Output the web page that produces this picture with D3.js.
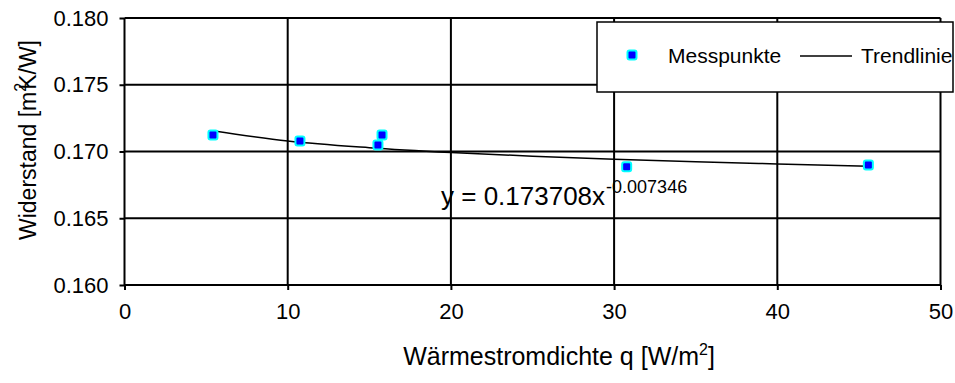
<!DOCTYPE html>
<html>
<head>
<meta charset="utf-8">
<script src="https://cdn.jsdelivr.net/npm/d3@7"></script>
<style>
  body { margin: 0; background: #fff; }
  svg { font-family: "Liberation Sans", Arial, sans-serif; }
</style>
</head>
<body>
<svg id="chart" width="955" height="383"></svg>
<script>
// measured points (Messpunkte)
const pointX = [5.42, 10.75, 15.53, 15.78, 30.77, 45.58];
const pointY = [0.17124, 0.17079, 0.17049, 0.17124, 0.16886, 0.16899];
// trend line
const trendX = [5.4, 10, 15, 20, 25, 30, 35, 40, 45.6];
const trendY = [0.17156, 0.17079, 0.17029, 0.16993, 0.16965, 0.16942, 0.16923, 0.16907, 0.16890];
const xTicks = [0, 10, 20, 30, 40, 50];
const yTicks = [0.160, 0.165, 0.170, 0.175, 0.180];
const legendLabels = ["Messpunkte", "Trendlinie"];

const svg = d3.select('#chart');
const plotLeft = 124.5, plotRight = 940.5, plotTop = 18, plotBottom = 285;

const x = d3.scaleLinear().domain([0, 50]).range([plotLeft, plotRight]);
const y = d3.scaleLinear().domain([0.160, 0.180]).range([plotBottom, plotTop]);

// grid
const grid = svg.append('g').attr('stroke', '#000').attr('stroke-width', 2);
grid.selectAll('line.v').data(xTicks).enter().append('line')
  .attr('x1', d => x(d)).attr('x2', d => x(d))
  .attr('y1', plotTop).attr('y2', plotBottom);
grid.selectAll('line.h').data(yTicks).enter().append('line')
  .attr('x1', plotLeft).attr('x2', plotRight)
  .attr('y1', d => y(d)).attr('y2', d => y(d));

// axes
const xAxis = svg.append('g')
  .attr('transform', `translate(0,${plotBottom})`)
  .call(d3.axisBottom(x).tickValues(xTicks).tickSize(5).tickPadding(13).tickFormat(d3.format('d')));
const yAxis = svg.append('g')
  .attr('transform', `translate(${plotLeft},0)`)
  .call(d3.axisLeft(y).tickValues(yTicks).tickSize(5).tickPadding(11).tickFormat(d3.format('.3f')));
[xAxis, yAxis].forEach(a => {
  a.select('.domain').remove();
  a.selectAll('line').attr('stroke', '#000').attr('stroke-width', 2);
  a.selectAll('text').attr('font-size', 22).attr('fill', '#000')
    .attr('font-family', '"Liberation Sans", Arial, sans-serif');
});

// trend line
const line = d3.line().x((d, i) => x(trendX[i])).y(d => y(d)).curve(d3.curveMonotoneX);
svg.append('path').datum(trendY)
  .attr('d', line).attr('fill', 'none').attr('stroke', '#000').attr('stroke-width', 1.5);

// points
svg.selectAll('rect.pt').data(pointY).enter().append('rect')
  .attr('x', (d, i) => x(pointX[i]) - 4.5).attr('y', d => y(d) - 4.5)
  .attr('width', 9).attr('height', 9).attr('rx', 2)
  .attr('fill', '#0000ff').attr('stroke', '#00ffff').attr('stroke-width', 2);

// equation
const eq = svg.append('text').attr('x', 441).attr('y', 205).attr('font-size', 26).attr('fill', '#000');
eq.append('tspan').text('y = 0.173708x');
eq.append('tspan').attr('dx', 1).attr('dy', -12).attr('font-size', 18).text('-0.007346');

// legend
const lg = svg.append('g');
lg.append('rect').attr('x', 597).attr('y', 22).attr('width', 356).attr('height', 70)
  .attr('fill', '#fff').attr('stroke', '#000').attr('stroke-width', 1.5);
lg.append('rect').attr('x', 627.5).attr('y', 50.5).attr('width', 9).attr('height', 9).attr('rx', 2)
  .attr('fill', '#0000ff').attr('stroke', '#00ffff').attr('stroke-width', 2);
lg.append('text').attr('x', 668).attr('y', 63).attr('font-size', 21).text(legendLabels[0]);
lg.append('line').attr('x1', 800).attr('x2', 852).attr('y1', 56).attr('y2', 56)
  .attr('stroke', '#000').attr('stroke-width', 1.5);
lg.append('text').attr('x', 861).attr('y', 63).attr('font-size', 21).text(legendLabels[1]);

// axis titles
const xt = svg.append('text').attr('x', 559).attr('y', 365).attr('text-anchor', 'middle').attr('font-size', 25);
xt.append('tspan').text('Wärmestromdichte q [W/m');
xt.append('tspan').attr('dy', -10).attr('font-size', 16).text('2');
xt.append('tspan').attr('dy', 10).text(']');

const yt = svg.append('text').attr('transform', 'translate(36,140) rotate(-90)')
  .attr('text-anchor', 'middle').attr('font-size', 23);
yt.append('tspan').text('Widerstand [m');
yt.append('tspan').attr('dy', -10).attr('font-size', 16).text('2');
yt.append('tspan').attr('dy', 10).attr('dx', -7).text('K/W]');
</script>
</body>
</html>
